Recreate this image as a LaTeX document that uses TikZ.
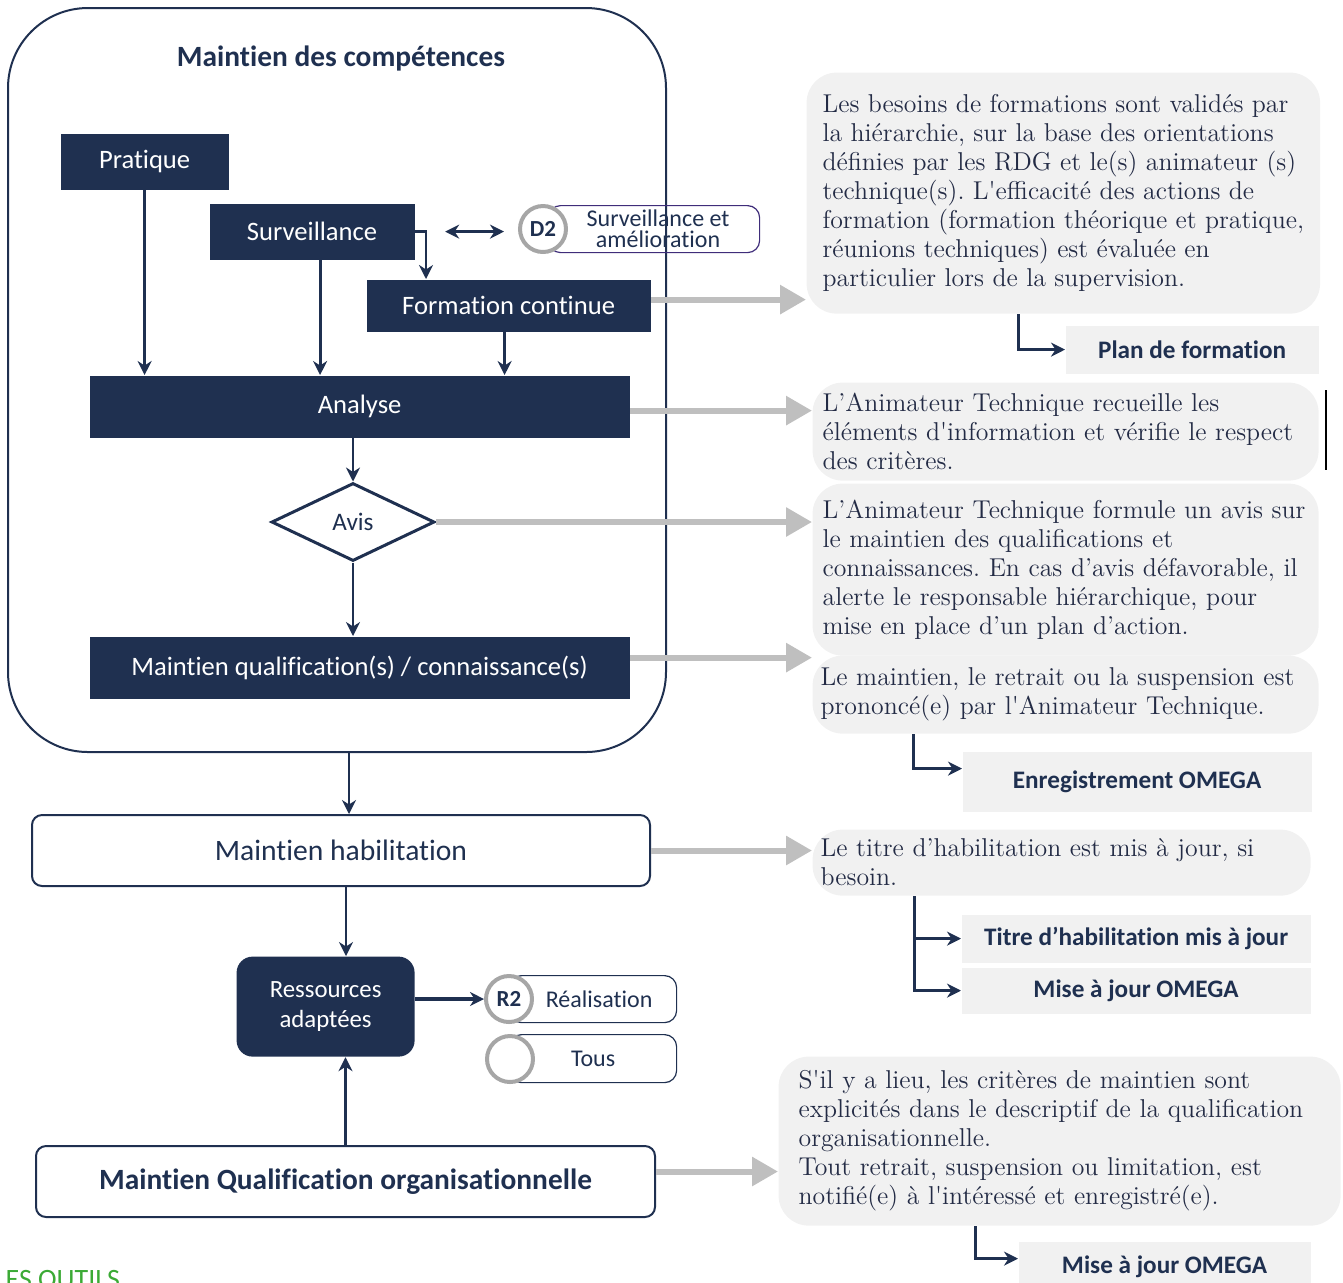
\documentclass[tikz,border=0pt]{standalone}
\usepackage{fontspec}
\newfontfamily\calib[Ligatures=NoCommon]{Carlito}
\usetikzlibrary{arrows.meta, positioning, shapes.geometric}
\frenchspacing

\definecolor{navy}{HTML}{1F3050}
\definecolor{ink}{HTML}{232B45}
\definecolor{notegray}{HTML}{F1F1F1}
\definecolor{arrowgray}{HTML}{BFBFBF}
\definecolor{ringgray}{HTML}{A6A6A6}
\definecolor{violet}{HTML}{3F2D7A}
\definecolor{outilsgreen}{HTML}{3BAA35}

\begin{document}
\begin{tikzpicture}[
                x = 0.5pt, y = -0.5pt, % one unit = one pixel of the layout
                > = {Stealth[length=7pt, width=7pt]}, % arrow head style
                semithick % line style
            ]

            \tikzstyle{navybox}=[fill=navy, text=white, inner sep=0pt, anchor=north west,
            font=\calib\fontsize{13.3}{15}\selectfont]
            \tikzstyle{whitebox}=[draw=navy, line width=1pt, fill=white, rounded corners=5pt,
            inner sep=0pt, anchor=north west, text=navy]
            \tikzstyle{note}=[fill=notegray, rounded corners=15pt, text=ink, align=left,
            anchor=north west, inner ysep=0pt, font=\fontsize{12.9}{14.5}\selectfont]
            \tikzstyle{result}=[fill=notegray, text=navy, inner sep=0pt, anchor=north west,
            font=\calib\bfseries\fontsize{12.6}{14}\selectfont]
            \tikzstyle{ring}=[circle, draw=ringgray, line width=2pt, fill=white, minimum size=23pt,
            inner sep=0pt, text=navy, font=\calib\bfseries\fontsize{11.5}{12}\selectfont]
            \tikzstyle{tag}=[draw=navy, rounded corners=6pt, inner sep=0pt, anchor=north west,
            text=navy, font=\calib\fontsize{12}{13}\selectfont]
            \tikzstyle{flow}=[->, draw=navy, line width=1.4pt]
            \tikzstyle{feed}=[-{Triangle[length=13pt, width=14pt]}, draw=arrowgray, line width=3pt]

            \useasboundingbox (0,0) rectangle (1343,1282);

            % maintien des competences
            \node (competences) [draw=navy, line width=1pt, rounded corners=40pt,
            minimum width=329pt, minimum height=372pt] at (337,380) {};
            \node (heading) [text=navy, font=\calib\bfseries\fontsize{14.7}{17}\selectfont]
            at (341,58) {Maintien des compétences};

            \node (pratique) [navybox, minimum width=84pt, minimum height=28pt] at (60,133) {Pratique};
            \node (surv) [navybox, minimum width=102.5pt, minimum height=28pt] at (209,203) {Surveillance};
            \node (formation) [navybox, minimum width=142pt, minimum height=26pt] at (366,279) {Formation continue};
            \node (analyse) [navybox, minimum width=270pt, minimum height=31pt] at (89,375) {Analyse};
            \node (avis) [diamond, draw=navy, line width=1.5pt, fill=white, minimum width=81.5pt,
            minimum height=39pt, inner sep=0pt, text=navy, font=\calib\fontsize{12.6}{13}\selectfont]
            at (353,522) {Avis};
            \node (maintienq) [navybox, minimum width=270pt, minimum height=31pt] at (89,636)
            {Maintien qualification(s) / connaissance(s)};

            \node (d2box) [tag, draw=violet, minimum width=105.5pt, minimum height=23.5pt, align=center,
            font=\calib\fontsize{12}{10.5}\selectfont] at (548,205) {\hspace*{4pt}Surveillance et\\\hspace*{4pt}amélioration};
            \node (d2) [ring] at (543,229) {D2};

            \draw[flow] (pratique.south) -- (pratique.south |- analyse.north);
            \draw[flow] ([xshift=4pt]surv.south) -- ([xshift=4pt]surv.south |- analyse.north);
            \draw[flow] ([xshift=-2pt]formation.south) -- ([xshift=-2pt]formation.south |- analyse.north);
            \draw[flow] (surv.east) -| ([xshift=30pt]formation.north west);
            \draw[<->, navy, line width=1.2pt, shorten <=15pt, shorten >=7pt] (surv.east) -- (surv.east -| d2.west);
            \draw[flow] (analyse.south -| avis.north) -- (avis.north);
            \draw[flow] (avis.south) -- (avis.south |- maintienq.north);

            % habilitation et qualification organisationnelle
            \node (habil) [whitebox, minimum width=309pt, minimum height=35.5pt,
            font=\calib\fontsize{14.8}{16}\selectfont] at (31,814) {Maintien habilitation};
            \node (ressources) [navybox, rounded corners=8pt, minimum width=89pt, minimum height=50pt,
            align=center, font=\calib\fontsize{12.4}{15}\selectfont] at (236,956) {Ressources\\adaptées};
            \node (mqo) [whitebox, minimum width=309.5pt, minimum height=35.5pt,
            font=\calib\bfseries\fontsize{14.7}{16}\selectfont] at (35,1145) {Maintien Qualification organisationnelle};
            \node (r2box) [tag, minimum width=83.5pt, minimum height=23.5pt] at (509,975) {\hspace*{6pt}Réalisation};
            \node (r2) [ring] at (509,999) {R2};
            \node (tousbox) [tag, minimum width=83.5pt, minimum height=24pt] at (509,1034) {Tous};
            \node (tous) [ring] at (510,1059) {};

            \draw[flow] ([xshift=6pt]competences.south) -- ([xshift=6pt]competences.south |- habil.north);
            \draw[flow] ([xshift=2.5pt]habil.south) -- ([xshift=2.5pt]habil.south |- ressources.north);
            \draw[flow] (mqo.north) -- (mqo.north |- ressources.south);
            \draw[flow, line width=2pt] (ressources.east |- r2) -- (r2.west);

            % commentaires
            \node (besoins) [note, inner xsep=8pt, minimum width=256pt, minimum height=120.5pt] at (806,72)
            {Les besoins de formations sont validés par\\
            la hiérarchie, sur la base des orientations\\
            définies par les RDG et le(s) animateur (s)\\
            technique(s). L\textquotesingle efficacité des actions de\\
            formation (formation théorique et pratique,\\
            réunions techniques) est évaluée en\\
            particulier lors de la supervision.};
            \node (recueil) [note, inner xsep=5pt, text width=243pt, minimum height=49pt] at (812,382)
            {L’Animateur Technique recueille les\\
            éléments d\textquotesingle information et vérifie le respect\\
            des critères.};
            \node (avisnote) [note, inner xsep=5pt, text width=243pt, minimum height=86pt] at (812,483)
            {L’Animateur Technique formule un avis sur\\
            le maintien des qualifications et\\
            connaissances. En cas d’avis défavorable, il\\
            alerte le responsable hiérarchique, pour\\
            mise en place d’un plan d’action.};
            \node (retrait) [note, inner xsep=4pt, text width=245pt, minimum height=39pt] at (812,655)
            {Le maintien, le retrait ou la suspension est\\
            prononcé(e) par l\textquotesingle Animateur Technique.};
            \node (titrenote) [note, inner xsep=4pt, text width=241pt, minimum height=33pt] at (812,829)
            {Le titre d’habilitation est mis à jour, si\\
            besoin.};
            \node (criteres) [note, inner xsep=10pt, text width=261pt, minimum height=84.5pt] at (778,1056)
            {S\textquotesingle il y a lieu, les critères de maintien sont\\
            explicités dans le descriptif de la qualification\\
            organisationnelle.\\
            Tout retrait, suspension ou limitation, est\\
            notifié(e) à l\textquotesingle intéressé et enregistré(e).};

            \draw[feed] ([yshift=3pt]formation.east) -- ([yshift=3pt]formation.east -| besoins.west);
            \draw[feed] ([yshift=-2pt]analyse.east) -- ([yshift=-2pt]analyse.east -| recueil.west);
            \draw[feed] (avis.east) -- (avis.east -| avisnote.west);
            \draw[feed] ([yshift=5pt]maintienq.east) -- ([yshift=5pt]maintienq.east -| retrait.west);
            \draw[feed] (habil.east) -- (habil.east -| titrenote.west);
            \draw[feed] ([yshift=5pt]mqo.east) -- ([yshift=5pt]mqo.east -| criteres.west);

            % enregistrements
            \node (plan) [result, minimum width=126.5pt, minimum height=24pt] at (1065,325) {Plan de formation};
            \node (enreg) [result, minimum width=174.5pt, minimum height=30pt] at (962,751) {Enregistrement OMEGA};
            \node (titremaj) [result, minimum width=174.5pt, minimum height=24pt] at (961,914) {Titre d’habilitation mis à jour};
            \node (omegaA) [result, minimum width=174.5pt, minimum height=23pt] at (961,967) {Mise à jour OMEGA};
            \node (omegaB) [result, minimum width=146pt, minimum height=25pt] at (1018,1241) {Mise à jour OMEGA};

            \draw[flow] ([xshift=-22.5pt]besoins.south) |- (plan.west);
            \draw[flow] ([xshift=-76pt]retrait.south) |- ([yshift=6.5pt]enreg.west);
            \draw[flow] ([xshift=-73.5pt]titrenote.south) |- (titremaj.west);
            \draw[flow] ([xshift=-73.5pt]titrenote.south) |- (omegaA.west);
            \draw[flow] ([xshift=-42pt]criteres.south) |- ([yshift=4pt]omegaB.west);

            \draw[line width=1pt] (1326,390) -- (1326,470);
            \node (outils) [anchor=north west, inner sep=0pt, text=outilsgreen,
            font=\calib\fontsize{14}{16}\selectfont] at (5,1270) {ES OUTILS};

        \end{tikzpicture}
\end{document}
